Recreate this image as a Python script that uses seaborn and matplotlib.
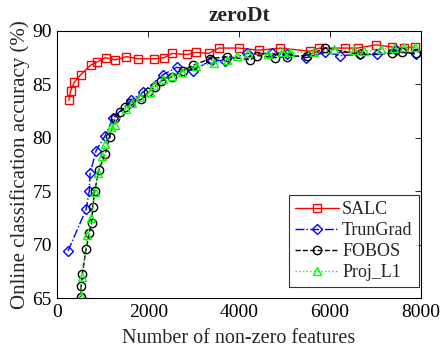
import matplotlib
matplotlib.use("Agg")
import matplotlib.pyplot as plt
import seaborn as sns
import pandas as pd

salc_x = [250, 290, 370, 510, 730, 870, 1060, 1270, 1520, 1770, 2120, 2350, 2520, 2860, 3050,
          3330, 3550, 3990, 4440, 4910, 5570, 5760, 6340, 6610, 7010, 7370, 7630, 7870]
salc_y = [83.5, 84.4, 85.2, 85.9, 86.8, 87.1, 87.5, 87.3, 87.6, 87.4, 87.4, 87.5, 87.9, 87.8, 88.0,
          87.9, 88.4, 88.4, 88.2, 88.4, 88.1, 88.4, 88.4, 88.4, 88.7, 88.5, 88.4, 88.5]

trun_x = [230, 630, 700, 720, 850, 1050, 1230, 1620, 1890, 2320, 2630, 2990, 3400, 3690, 4170,
          4720, 5060, 5480, 5900, 6230, 6670, 7040, 7450, 7890]
trun_y = [69.4, 73.3, 75.0, 76.7, 78.8, 80.2, 81.9, 83.5, 84.3, 85.9, 86.6, 86.3, 87.3, 87.2, 87.9,
          87.9, 87.8, 87.5, 88.0, 87.7, 87.8, 87.8, 88.2, 87.8]

fobos_x = [510, 520, 550, 630, 700, 750, 775, 820, 910, 1050, 1150, 1270, 1380, 1490, 1600, 1850,
           2000, 2150, 2280, 2520, 2770, 2990, 3360, 3730, 4240, 4400, 4800, 5060, 5490, 5900,
           6670, 7370, 7580, 7890]
fobos_y = [65.1, 66.1, 67.3, 69.6, 71.1, 72.0, 73.5, 75.0, 77.0, 78.5, 80.1, 81.9, 82.4, 82.9, 83.3,
           83.6, 84.3, 84.8, 85.3, 85.7, 86.3, 86.8, 87.4, 87.6, 87.3, 87.7, 87.5, 87.6, 87.7, 88.4,
           87.8, 87.9, 88.0, 87.9]

proj_x = [510, 530, 660, 735, 823, 896, 971, 1050, 1177, 1265, 1510, 1633, 1817, 2038, 2133, 2320,
          2520, 2750, 3040, 3450, 3740, 3950, 4200, 4630, 4945, 5129, 5650, 6086, 6520, 6746, 7117,
          7420, 7640, 7880]
proj_y = [65.2, 67.0, 70.9, 72.5, 74.9, 76.7, 78.3, 79.4, 81.0, 81.2, 82.7, 83.3, 83.8, 84.3, 84.9,
          85.5, 85.8, 86.2, 86.7, 87.0, 87.3, 87.7, 87.9, 87.8, 88.0, 88.0, 88.0, 88.3, 88.2, 88.1,
          88.3, 88.4, 88.5, 88.5]

x_ticks = [0, 2000, 4000, 6000, 8000]
y_ticks = [65, 70, 75, 80, 85, 90]

sns.set_style("white")
plt.rcParams['font.family'] = ['Liberation Serif', 'DejaVu Serif']

fig = plt.figure(figsize=(4.42, 3.52), dpi=100)
ax = fig.add_axes([0.130, 0.153, 0.822, 0.759])

series = [
    ("SALC", salc_x, salc_y, (1, 0, 0), "s", "-"),
    ("TrunGrad", trun_x, trun_y, (0, 0, 1), "D", "-."),
    ("FOBOS", fobos_x, fobos_y, (0, 0, 0), "o", "--"),
    ("Proj_L1", proj_x, proj_y, (0, 1, 0), "^", ":"),
]
for name, xs, ys, col, mk, ls in series:
    df = pd.DataFrame({"x": xs, "y": ys})
    sns.lineplot(data=df, x="x", y="y", ax=ax, color=col, marker=mk, linestyle=ls,
                 markerfacecolor="none", markeredgecolor=col, markeredgewidth=1.0,
                 markersize=6 if mk != "D" else 5, linewidth=1.0, label=name,
                 estimator=None, sort=False)

ax.set_xlim(0, 8000)
ax.set_ylim(65, 90)
ax.set_xticks(x_ticks)
ax.set_yticks(y_ticks)
ax.tick_params(direction="in", top=True, right=True, labelsize=14, length=4, width=0.6,
               colors="black", pad=4)
for s in ax.spines.values():
    s.set_visible(True)
    s.set_color("black")
    s.set_linewidth(0.8)
ax.set_xlabel("Number of non-zero features", fontsize=14.5, labelpad=6)
ax.set_ylabel("Online classification accuracy (%)", fontsize=15, labelpad=2)
ax.set_title("zeroDt", fontsize=15.5, fontweight="bold", pad=7)

leg = ax.legend(loc="lower right", bbox_to_anchor=(0.995, 0.04), fontsize=13, frameon=True,
                fancybox=False, edgecolor="black", handlelength=2.4, handletextpad=0.2,
                borderpad=0.35, labelspacing=0.22, borderaxespad=0.0)
leg.get_frame().set_linewidth(0.8)

fig.savefig("out.png", dpi=100)
